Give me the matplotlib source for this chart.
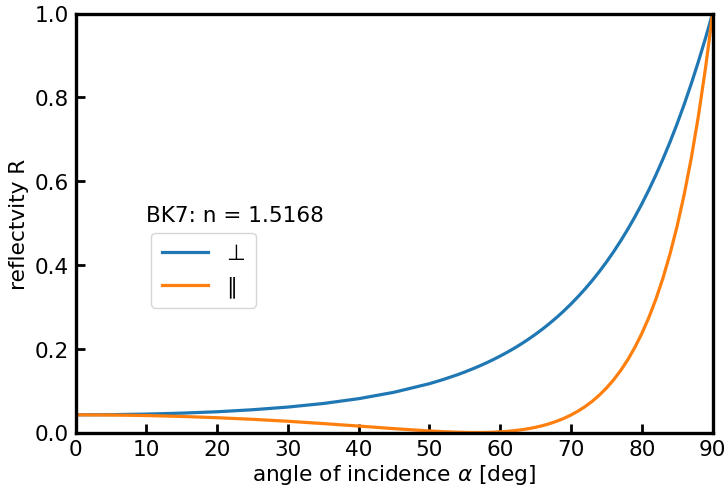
import matplotlib
matplotlib.use("Agg")
import matplotlib.pyplot as plt

# angle of incidence [deg]
angles = [0, 5, 10, 15, 20, 25, 30, 35, 40, 45, 50, 52, 54, 55, 56, 57, 58, 59,
          60, 61, 62, 63, 64, 65, 66, 67, 68, 69, 70, 71, 72, 73, 74, 75, 76, 77,
          78, 79, 80, 81, 82, 83, 84, 85, 86, 87, 88, 89, 89.5, 90]
# perpendicular (s) reflectivity
r_perp = [0.0422, 0.0426, 0.0439, 0.0462, 0.0495, 0.0543, 0.0607, 0.0692, 0.0807,
          0.0960, 0.1165, 0.1267, 0.1381, 0.1444, 0.1511, 0.1582, 0.1657, 0.1738,
          0.1824, 0.1915, 0.2012, 0.2116, 0.2227, 0.2345, 0.2471, 0.2606, 0.2749,
          0.2902, 0.3066, 0.3242, 0.3427, 0.3626, 0.3838, 0.4065, 0.4307, 0.4566,
          0.4842, 0.5137, 0.5451, 0.5787, 0.6145, 0.6527, 0.6934, 0.7368, 0.7831,
          0.8324, 0.8848, 0.9406, 0.9699, 1.0]
# parallel (p) reflectivity
r_par = [0.0422, 0.0417, 0.0405, 0.0383, 0.0353, 0.0315, 0.0268, 0.0213, 0.0154,
         0.0092, 0.0037, 0.0020, 0.0007, 0.0003, 0.0000, 0.0000, 0.0002, 0.0007,
         0.0016, 0.0028, 0.0044, 0.0065, 0.0091, 0.0124, 0.0164, 0.0212, 0.0270,
         0.0337, 0.0417, 0.0511, 0.0618, 0.0744, 0.0890, 0.1058, 0.1251, 0.1474,
         0.1729, 0.2022, 0.2358, 0.2742, 0.3182, 0.3686, 0.4263, 0.4924, 0.5680,
         0.6548, 0.7543, 0.8686, 0.9320, 1.0]

FS = 15.6

fig = plt.figure(figsize=(7.28, 4.89), dpi=100)
ax = fig.add_axes([75.5/728, 1 - 433.5/489, (712.5 - 75.5)/728, (433.5 - 14.5)/489])

ax.plot(angles, r_perp, color="#1f77b4", lw=2.3, label="⊥")
ax.plot(angles, r_par, color="#ff7f0e", lw=2.3, label="∥")

ax.set_xlim(0, 90)
ax.set_ylim(0, 1)
ax.set_xticks(range(0, 91, 10))
ax.set_yticks([0, 0.2, 0.4, 0.6, 0.8, 1.0])
ax.set_yticklabels(["0.0", "0.2", "0.4", "0.6", "0.8", "1.0"])

for s in ax.spines.values():
    s.set_linewidth(2.4)
ax.tick_params(direction="in", length=6.5, width=2, labelsize=FS, pad=5)

ax.set_xlabel("angle of incidence $\\alpha$ [deg]", fontsize=FS, labelpad=2)
ax.set_ylabel("reflectvity R", fontsize=FS, labelpad=4)

ax.text(10.0, 0.518, "BK7: n = 1.5168", fontsize=FS, va="center", ha="left")
leg = ax.legend(loc="upper left", bbox_to_anchor=(75.8/637, 1 - (233.5 - 14.5)/419),
                fontsize=FS, handlelength=2.1, handletextpad=0.85, borderpad=0.5,
                labelspacing=0.55, borderaxespad=0, framealpha=0.8)

fig.savefig("out.png", dpi=100)
